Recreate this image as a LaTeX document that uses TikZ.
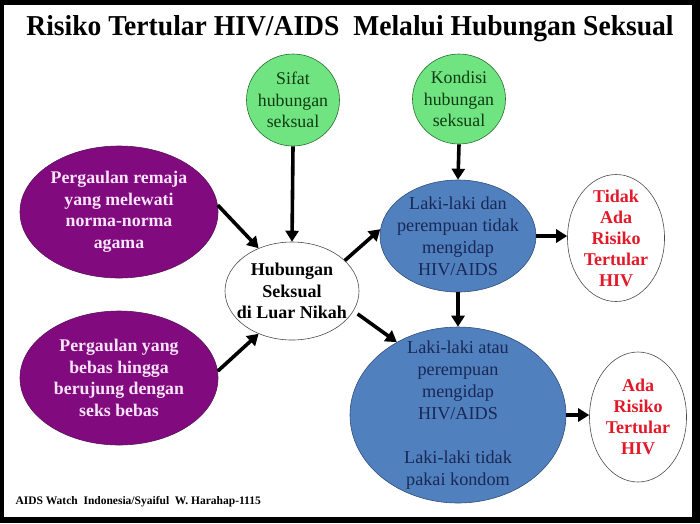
\documentclass[tikz,border=0pt]{standalone}
\usepackage{fontspec}
\setmainfont{Liberation Serif}
\usetikzlibrary{arrows.meta,shapes.geometric}

\definecolor{purpfill}{RGB}{128,10,126}
\definecolor{purpline}{RGB}{90,20,90}
\definecolor{purptext}{RGB}{250,228,250}
\definecolor{greenfill}{RGB}{112,228,128}
\definecolor{greenline}{RGB}{40,110,50}
\definecolor{greentext}{RGB}{15,60,20}
\definecolor{bluefill}{RGB}{80,128,190}
\definecolor{blueline}{RGB}{50,80,120}
\definecolor{bluetext}{RGB}{25,40,85}
\definecolor{redtext}{RGB}{225,25,40}

\tikzset{
	blob/.style={ellipse, draw, inner sep=0pt, align=center, line width=0.6pt},
	purpblob/.style={blob, fill=purpfill, draw=purpline, text=purptext,
		font=\bfseries\fontsize{17.8}{21.5}\selectfont, minimum width=198pt, minimum height=132pt},
	greenblob/.style={blob, fill=greenfill, draw=greenline, text=greentext, inner xsep=-3pt,
		font=\fontsize{17.8}{21.5}\selectfont, minimum width=93pt, minimum height=92pt},
	blueblob/.style={blob, fill=bluefill, draw=blueline, text=bluetext,
		font=\fontsize{18.2}{22}\selectfont},
	whiteblob/.style={blob, fill=white, draw=black!70},
	riskblob/.style={whiteblob, text=redtext, font=\bfseries\fontsize{18}{21}\selectfont,
		minimum width=97pt},
	arr/.style={line width=3.6pt, -{Triangle[width=13pt,length=11pt]}}
}

\begin{document}
\begin{tikzpicture}[x=1pt,y=-1pt]
	\useasboundingbox (0,0) rectangle (700,523);
	\fill[black] (0,0) rectangle (700,523);
	\fill[white] (4,5) rectangle (692,517);

	\node (title) at (350,29) {\scalebox{0.985}[1.03]{\bfseries\fontsize{28}{30}\selectfont Risiko Tertular HIV/AIDS\ \ Melalui Hubungan Seksual}};
	\node[anchor=west] (credit) at (12,502) {\bfseries\fontsize{11.5}{13}\selectfont AIDS Watch\ \ Indonesia/Syaiful\ \ W. Harahap-1115};

	% sebab
	\node[purpblob] (remaja) at (119,212) {Pergaulan remaja\\yang melewati\\norma-norma\\agama};
	\node[purpblob, minimum height=134pt] (bebas) at (119,378) {Pergaulan yang\\bebas hingga\\berujung dengan\\seks bebas};
	\node[whiteblob, font=\bfseries\fontsize{18}{21.5}\selectfont, inner xsep=-8pt, minimum width=134pt, minimum height=98pt] (luar) at (292,291) {Hubungan\\Seksual\\di Luar Nikah};

	% kondisi
	\node[greenblob] (sifat) at (293,100) {Sifat\\hubungan\\seksual};
	\node[greenblob, minimum height=90pt] (kondisi) at (459,99) {Kondisi\\hubungan\\seksual};
	\node[blueblob, inner xsep=-7pt, inner ysep=-3pt, minimum width=156pt, minimum height=112pt] (negatif) at (458,236) {Laki-laki dan\\perempuan tidak\\mengidap\\HIV/AIDS};
	\node[blueblob, inner ysep=-24pt, minimum width=216pt, minimum height=176pt] (positif) at (458,415) {Laki-laki atau\\perempuan\\mengidap\\HIV/AIDS\\[22pt]Laki-laki tidak\\pakai kondom};

	% hasil
	\node[riskblob, inner ysep=-5pt, minimum height=127pt] (aman) at (616,238) {Tidak\\Ada\\Risiko\\Tertular\\HIV};
	\node[riskblob, minimum height=130pt] (risiko) at (638,417) {Ada\\Risiko\\Tertular\\HIV};

	\draw[arr] (remaja.4) -- (luar.128);
	\draw[arr] (bebas.4) -- (luar.232);
	\draw[arr] (sifat.south) -- (luar.north);
	\draw[arr] (luar.30) -- (negatif.175);
	\draw[arr, shorten <=5pt] (luar.-18) -- (positif.130);
	\draw[arr] (kondisi.south) -- (negatif.north);
	\draw[arr] (negatif.south) -- (positif.north);
	\draw[arr] (negatif.east) -- (aman.west |- negatif.east);
	\draw[arr] (positif.east) -- (risiko.west |- positif.east);
\end{tikzpicture}
\end{document}
